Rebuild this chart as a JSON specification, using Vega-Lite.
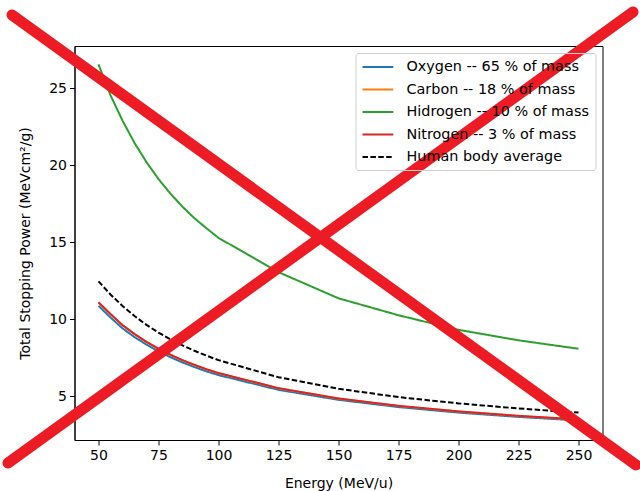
{
  "$schema": "https://vega.github.io/schema/vega-lite/v6.json",
  "width": 528,
  "height": 394,
  "autosize": {"type": "none"},
  "padding": {"left": 74.5, "top": 46, "right": 37.5, "bottom": 51},
  "background": "white",
  "config": {
    "font": "DejaVu Sans",
    "view": {"stroke": "black", "strokeWidth": 1}
  },
  "datasets": {
    "curves": [
      {"E": 50, "S": 10.86, "series": "Oxygen -- 65 % of mass"},
      {"E": 55, "S": 10.10, "series": "Oxygen -- 65 % of mass"},
      {"E": 60, "S": 9.40, "series": "Oxygen -- 65 % of mass"},
      {"E": 65, "S": 8.83, "series": "Oxygen -- 65 % of mass"},
      {"E": 70, "S": 8.34, "series": "Oxygen -- 65 % of mass"},
      {"E": 75, "S": 7.90, "series": "Oxygen -- 65 % of mass"},
      {"E": 80, "S": 7.52, "series": "Oxygen -- 65 % of mass"},
      {"E": 85, "S": 7.18, "series": "Oxygen -- 65 % of mass"},
      {"E": 90, "S": 6.88, "series": "Oxygen -- 65 % of mass"},
      {"E": 95, "S": 6.60, "series": "Oxygen -- 65 % of mass"},
      {"E": 100, "S": 6.36, "series": "Oxygen -- 65 % of mass"},
      {"E": 125, "S": 5.40, "series": "Oxygen -- 65 % of mass"},
      {"E": 150, "S": 4.75, "series": "Oxygen -- 65 % of mass"},
      {"E": 175, "S": 4.28, "series": "Oxygen -- 65 % of mass"},
      {"E": 200, "S": 3.92, "series": "Oxygen -- 65 % of mass"},
      {"E": 225, "S": 3.64, "series": "Oxygen -- 65 % of mass"},
      {"E": 250, "S": 3.41, "series": "Oxygen -- 65 % of mass"},
      {"E": 50, "S": 11.07, "series": "Carbon -- 18 % of mass"},
      {"E": 55, "S": 10.31, "series": "Carbon -- 18 % of mass"},
      {"E": 60, "S": 9.60, "series": "Carbon -- 18 % of mass"},
      {"E": 65, "S": 9.02, "series": "Carbon -- 18 % of mass"},
      {"E": 70, "S": 8.51, "series": "Carbon -- 18 % of mass"},
      {"E": 75, "S": 8.06, "series": "Carbon -- 18 % of mass"},
      {"E": 80, "S": 7.67, "series": "Carbon -- 18 % of mass"},
      {"E": 85, "S": 7.32, "series": "Carbon -- 18 % of mass"},
      {"E": 90, "S": 7.01, "series": "Carbon -- 18 % of mass"},
      {"E": 95, "S": 6.73, "series": "Carbon -- 18 % of mass"},
      {"E": 100, "S": 6.48, "series": "Carbon -- 18 % of mass"},
      {"E": 125, "S": 5.50, "series": "Carbon -- 18 % of mass"},
      {"E": 150, "S": 4.83, "series": "Carbon -- 18 % of mass"},
      {"E": 175, "S": 4.35, "series": "Carbon -- 18 % of mass"},
      {"E": 200, "S": 3.99, "series": "Carbon -- 18 % of mass"},
      {"E": 225, "S": 3.70, "series": "Carbon -- 18 % of mass"},
      {"E": 250, "S": 3.47, "series": "Carbon -- 18 % of mass"},
      {"E": 50, "S": 26.55, "series": "Hidrogen -- 10 % of mass"},
      {"E": 55, "S": 24.55, "series": "Hidrogen -- 10 % of mass"},
      {"E": 60, "S": 22.90, "series": "Hidrogen -- 10 % of mass"},
      {"E": 65, "S": 21.45, "series": "Hidrogen -- 10 % of mass"},
      {"E": 70, "S": 20.20, "series": "Hidrogen -- 10 % of mass"},
      {"E": 75, "S": 19.10, "series": "Hidrogen -- 10 % of mass"},
      {"E": 80, "S": 18.15, "series": "Hidrogen -- 10 % of mass"},
      {"E": 85, "S": 17.30, "series": "Hidrogen -- 10 % of mass"},
      {"E": 90, "S": 16.55, "series": "Hidrogen -- 10 % of mass"},
      {"E": 95, "S": 15.90, "series": "Hidrogen -- 10 % of mass"},
      {"E": 100, "S": 15.28, "series": "Hidrogen -- 10 % of mass"},
      {"E": 125, "S": 13.05, "series": "Hidrogen -- 10 % of mass"},
      {"E": 150, "S": 11.35, "series": "Hidrogen -- 10 % of mass"},
      {"E": 175, "S": 10.25, "series": "Hidrogen -- 10 % of mass"},
      {"E": 200, "S": 9.30, "series": "Hidrogen -- 10 % of mass"},
      {"E": 225, "S": 8.62, "series": "Hidrogen -- 10 % of mass"},
      {"E": 250, "S": 8.07, "series": "Hidrogen -- 10 % of mass"},
      {"E": 50, "S": 11.09, "series": "Nitrogen -- 3 % of mass"},
      {"E": 55, "S": 10.33, "series": "Nitrogen -- 3 % of mass"},
      {"E": 60, "S": 9.61, "series": "Nitrogen -- 3 % of mass"},
      {"E": 65, "S": 9.03, "series": "Nitrogen -- 3 % of mass"},
      {"E": 70, "S": 8.52, "series": "Nitrogen -- 3 % of mass"},
      {"E": 75, "S": 8.07, "series": "Nitrogen -- 3 % of mass"},
      {"E": 80, "S": 7.68, "series": "Nitrogen -- 3 % of mass"},
      {"E": 85, "S": 7.33, "series": "Nitrogen -- 3 % of mass"},
      {"E": 90, "S": 7.02, "series": "Nitrogen -- 3 % of mass"},
      {"E": 95, "S": 6.74, "series": "Nitrogen -- 3 % of mass"},
      {"E": 100, "S": 6.49, "series": "Nitrogen -- 3 % of mass"},
      {"E": 125, "S": 5.51, "series": "Nitrogen -- 3 % of mass"},
      {"E": 150, "S": 4.84, "series": "Nitrogen -- 3 % of mass"},
      {"E": 175, "S": 4.36, "series": "Nitrogen -- 3 % of mass"},
      {"E": 200, "S": 4.00, "series": "Nitrogen -- 3 % of mass"},
      {"E": 225, "S": 3.71, "series": "Nitrogen -- 3 % of mass"},
      {"E": 250, "S": 3.48, "series": "Nitrogen -- 3 % of mass"},
      {"E": 50, "S": 12.45, "series": "Human body average"},
      {"E": 55, "S": 11.60, "series": "Human body average"},
      {"E": 60, "S": 10.85, "series": "Human body average"},
      {"E": 65, "S": 10.20, "series": "Human body average"},
      {"E": 70, "S": 9.62, "series": "Human body average"},
      {"E": 75, "S": 9.12, "series": "Human body average"},
      {"E": 80, "S": 8.68, "series": "Human body average"},
      {"E": 85, "S": 8.29, "series": "Human body average"},
      {"E": 90, "S": 7.94, "series": "Human body average"},
      {"E": 95, "S": 7.62, "series": "Human body average"},
      {"E": 100, "S": 7.33, "series": "Human body average"},
      {"E": 125, "S": 6.22, "series": "Human body average"},
      {"E": 150, "S": 5.47, "series": "Human body average"},
      {"E": 175, "S": 4.93, "series": "Human body average"},
      {"E": 200, "S": 4.52, "series": "Human body average"},
      {"E": 225, "S": 4.19, "series": "Human body average"},
      {"E": 250, "S": 3.92, "series": "Human body average"}
    ],
    "cross": [
      {"px": 13.96, "py": 29.77, "stroke": "a"},
      {"px": 273.96, "py": 0.52, "stroke": "a"},
      {"px": 12.29, "py": 0.645, "stroke": "b"},
      {"px": 272.7, "py": 29.96, "stroke": "b"}
    ]
  },
  "layer": [
    {
      "data": {"name": "curves"},
      "mark": {"type": "line", "strokeWidth": 2, "clip": true},
      "encoding": {
        "x": {
          "field": "E",
          "type": "quantitative",
          "scale": {"domain": [40, 260], "nice": false, "zero": false},
          "axis": {
            "values": [50, 75, 100, 125, 150, 175, 200, 225, 250],
            "grid": false,
            "title": "Energy (MeV/u)",
            "titleFontSize": 14,
            "titleFontWeight": "normal",
            "titleColor": "black",
            "titlePadding": 14,
            "labelFontSize": 14,
            "labelColor": "black",
            "labelPadding": 3,
            "tickSize": 5,
            "tickColor": "black",
            "tickWidth": 1,
            "domainColor": "black",
            "labelFlush": false
          }
        },
        "y": {
          "field": "S",
          "type": "quantitative",
          "scale": {"domain": [2.14, 27.75], "nice": false, "zero": false},
          "axis": {
            "values": [5, 10, 15, 20, 25],
            "grid": false,
            "title": "Total Stopping Power (MeVcm²/g)",
            "titleFontSize": 14,
            "titleFontWeight": "normal",
            "titleColor": "black",
            "titlePadding": 16,
            "labelFontSize": 14,
            "labelColor": "black",
            "labelPadding": 3,
            "tickSize": 5,
            "tickColor": "black",
            "tickWidth": 1,
            "domainColor": "black",
            "labelFlush": false
          }
        },
        "color": {
          "field": "series",
          "type": "nominal",
          "sort": ["Oxygen -- 65 % of mass", "Carbon -- 18 % of mass", "Hidrogen -- 10 % of mass", "Nitrogen -- 3 % of mass", "Human body average"],
          "scale": {
            "domain": ["Oxygen -- 65 % of mass", "Carbon -- 18 % of mass", "Hidrogen -- 10 % of mass", "Nitrogen -- 3 % of mass", "Human body average"],
            "range": ["#1f77b4", "#ff7f0e", "#2ca02c", "#d62728", "#000000"]
          },
          "legend": {
            "title": null,
            "orient": "top-right",
            "offset": 7,
            "symbolType": "M-1,0H3.4",
            "symbolSize": 196,
            "symbolStrokeWidth": 2,
            "rowPadding": 7.5,
            "labelFontSize": 14.4,
            "labelColor": "black",
            "labelOffset": 29,
            "labelLimit": 0,
            "padding": 6,
            "strokeColor": "#d0d0d0",
            "cornerRadius": 3,
            "fillColor": "transparent"
          }
        },
        "strokeDash": {
          "field": "series",
          "type": "nominal",
          "sort": ["Oxygen -- 65 % of mass", "Carbon -- 18 % of mass", "Hidrogen -- 10 % of mass", "Nitrogen -- 3 % of mass", "Human body average"],
          "scale": {
            "domain": ["Oxygen -- 65 % of mass", "Carbon -- 18 % of mass", "Hidrogen -- 10 % of mass", "Nitrogen -- 3 % of mass", "Human body average"],
            "range": [[1, 0], [1, 0], [1, 0], [1, 0], [5.5, 2.4]]
          },
          "legend": {
            "title": null,
            "orient": "top-right",
            "offset": 7,
            "symbolType": "M-1,0H3.4",
            "symbolSize": 196,
            "symbolStrokeWidth": 2,
            "rowPadding": 7.5,
            "labelFontSize": 14.4,
            "labelColor": "black",
            "labelOffset": 29,
            "labelLimit": 0,
            "padding": 6,
            "strokeColor": "#d0d0d0",
            "cornerRadius": 3,
            "fillColor": "transparent"
          }
        }
      }
    },
    {
      "data": {"name": "cross"},
      "mark": {"type": "line", "color": "#ED1C24", "strokeWidth": 11, "strokeCap": "round", "clip": false},
      "encoding": {
        "x": {"field": "px", "type": "quantitative"},
        "y": {"field": "py", "type": "quantitative"},
        "detail": {"field": "stroke"}
      }
    }
  ]
}
